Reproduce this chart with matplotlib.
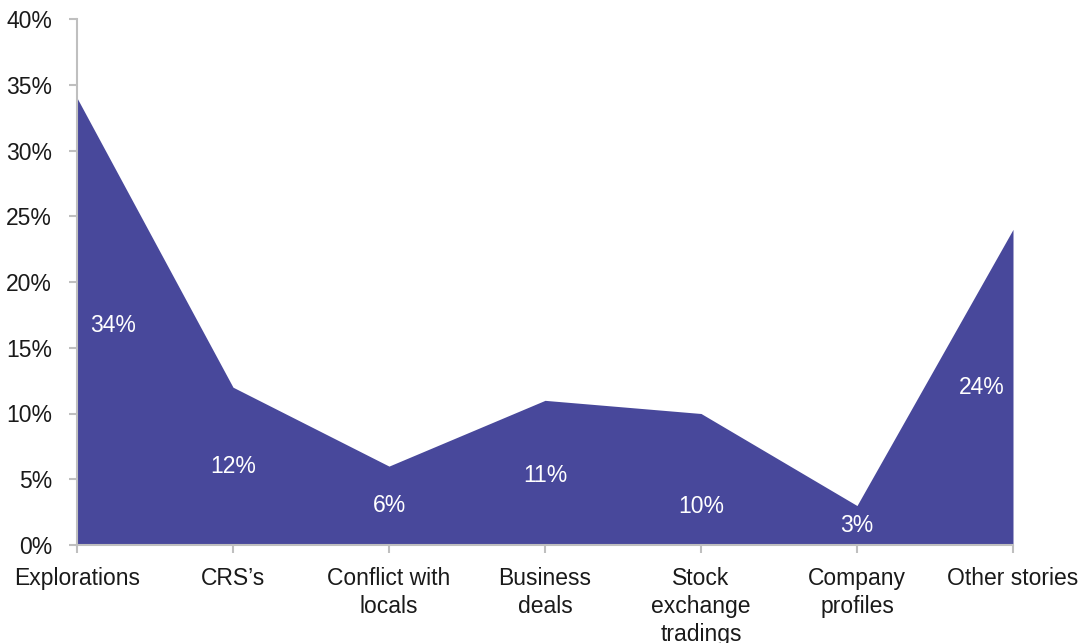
import numpy as np
import matplotlib.pyplot as plt

plt.rcParams['font.family'] = ['Liberation Sans', 'DejaVu Sans']

# Data
categories = ['Explorations', "CRS\u2019s", 'Conflict with\nlocals', 'Business\ndeals',
              'Stock\nexchange\ntradings', 'Company\nprofiles', 'Other stories']
shares = [34, 12, 6, 11, 10, 3, 24]

fill_color = '#48489b'
axis_color = '#bfbfbf'

fig = plt.figure(figsize=(10.83, 6.43), dpi=100)
ax = fig.add_axes([77 / 1083, 1 - 545 / 643, (1013 - 77) / 1083, (545 - 19) / 643])

x = np.arange(len(categories))
ax.fill_between(x, shares, 0, color=fill_color, linewidth=0)

# data labels, roughly mid-height inside the area
for i, v in enumerate(shares):
    lx, ly = x[i], v / 2
    if i == 0:
        lx += 0.23
        ly = v * 0.49
    elif i == len(shares) - 1:
        lx -= 0.2
    elif i == 3:
        ly = v * 0.48
    elif i == 4:
        ly = v * 0.29
    ax.text(lx, ly, f'{v}%', color='white', fontsize=16.5, ha='center', va='center')

ax.set_xlim(0, len(categories) - 1)
ax.set_ylim(0, 40)
ax.set_yticks(np.arange(0, 41, 5))
ax.set_yticklabels([f'{t}%' for t in range(0, 41, 5)])
ax.set_xticks(x)
ax.set_xticklabels(categories, linespacing=1.27, va='top')

for side in ['top', 'right']:
    ax.spines[side].set_visible(False)
for side in ['left', 'bottom']:
    ax.spines[side].set_color(axis_color)
    ax.spines[side].set_linewidth(1.5)

ax.tick_params(axis='both', colors=axis_color, length=6, width=1.5, labelsize=16.5,
               labelcolor='#1a1a1a')
ax.tick_params(axis='x', pad=10)
ax.tick_params(axis='y', pad=12)

fig.savefig('out.png', dpi=100)
